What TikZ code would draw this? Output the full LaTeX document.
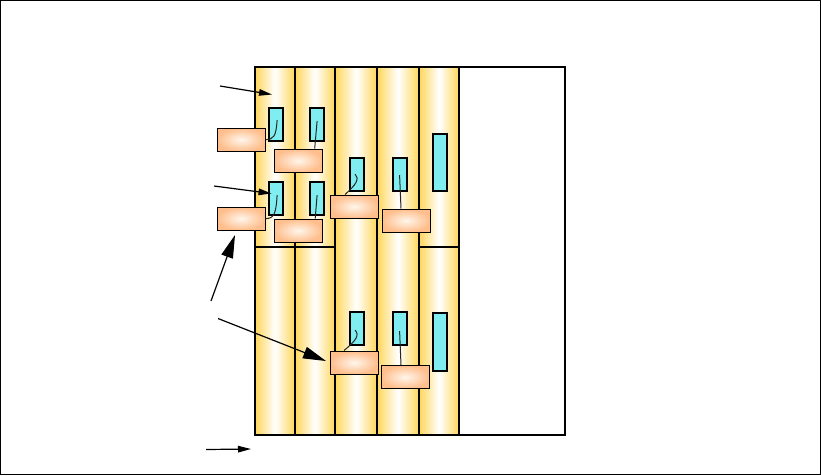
\documentclass[tikz,border=0pt]{standalone}
\usetikzlibrary{arrows.meta,calc}
\definecolor{goldc}{RGB}{255,214,90}
\definecolor{cyanc}{RGB}{128,238,240}
\definecolor{peach}{RGB}{255,190,140}
\definecolor{peachin}{RGB}{255,246,236}
\tikzset{
  colbox/.style={draw=black, line width=2pt, left color=goldc, right color=goldc, middle color=white, inner sep=0pt, anchor=north west, minimum width=#1},
  cybox/.style={draw=black, line width=2.2pt, fill=cyanc, inner sep=0pt, anchor=north west, minimum width=14pt},
  orbox/.style={draw=black, line width=1.2pt, inner color=peachin, outer color=peach, inner sep=0pt, anchor=north west, minimum width=48pt, minimum height=23pt},
  wire/.style={draw=black!85, line width=1pt},
  arrbig/.style={draw=black, line width=1.2pt, -{Triangle[length=23pt,width=12pt]}},
  arrsmall/.style={draw=black, line width=1.2pt, -{Triangle[length=13pt,width=6.5pt]}}
}
\begin{document}
\begin{tikzpicture}[x=1pt,y=-1pt]
\useasboundingbox (0,0) rectangle (821,475);
\draw[line width=1pt] (0.5,0.5) rectangle (820.5,474.5);
% columns
\node[colbox=40pt, minimum height=180pt] (c1t) at (254,66) {};
\node[colbox=40pt, minimum height=188pt] (c1b) at (254,246) {};
\node[colbox=40pt, minimum height=180pt] (c2t) at (294,66) {};
\node[colbox=40pt, minimum height=188pt] (c2b) at (294,246) {};
\node[colbox=42pt, minimum height=368pt] (c3) at (334,66) {};
\node[colbox=42pt, minimum height=368pt] (c4) at (376,66) {};
\node[colbox=40pt, minimum height=180pt] (c5t) at (418,66) {};
\node[colbox=40pt, minimum height=188pt] (c5b) at (418,246) {};
\node[draw=black, line width=2.4pt, inner sep=0pt, anchor=north west, minimum width=310pt, minimum height=368pt] (frame) at (254,66) {};
% cyan boxes
\node[cybox, minimum height=33pt] (y1) at (268,106.5) {};
\node[cybox, minimum height=33pt] (y2) at (308.5,106.5) {};
\node[cybox, minimum height=33pt] (y3) at (268,180.5) {};
\node[cybox, minimum height=33pt] (y4) at (308.5,180.5) {};
\node[cybox, minimum height=33pt] (y5) at (348.5,156.5) {};
\node[cybox, minimum height=33pt] (y6) at (391.5,156.5) {};
\node[cybox, minimum height=57pt] (y7) at (432,133) {};
\node[cybox, minimum height=33pt] (y8) at (348.5,310.5) {};
\node[cybox, minimum height=33pt] (y9) at (391.5,310.5) {};
\node[cybox, minimum height=58pt] (y10) at (432,311.5) {};
% orange boxes
\node[orbox] (oA) at (216.5,127.5) {};
\node[orbox] (oB) at (273.5,148.5) {};
\node[orbox] (oC) at (216.5,206.5) {};
\node[orbox] (oD) at (273.5,218.5) {};
\node[orbox] (oE) at (329.5,194.5) {};
\node[orbox] (oF) at (381.5,208.5) {};
\node[orbox] (oG) at (329.5,350.5) {};
\node[orbox] (oH) at (380.5,365) {};
% wires
\draw[wire] ($(y1.center)+(1,-4)$) .. controls ($(y1.center)+(0,12)$) and ($(oA.east)+(8,0)$) .. (oA.east);
\draw[wire] ($(y2.center)+(0.5,-3)$) -- ($(oB.north east)+(-8,0)$);
\draw[wire] ($(y3.center)+(1,-3)$) .. controls ($(y3.center)+(0,16)$) and ($(oC.east)+(8,0)$) .. (oC.east);
\draw[wire] ($(y4.center)+(0.5,-3)$) -- ($(oD.north east)+(-7.5,0)$);
\draw[wire] ($(y5.center)+(-1.5,0)$) .. controls ($(y5.center)+(3,5)$) and ($(y5.center)+(0,10)$) .. ($(oE.north west)+(15.5,0)$);
\draw[wire] ($(y6.center)+(0,1)$) -- ($(oF.north west)+(19.5,0)$);
\draw[wire] ($(y8.center)+(-1.5,2)$) .. controls ($(y8.center)+(3,7)$) and ($(y8.center)+(0,12)$) .. ($(oG.north west)+(14.5,0)$);
\draw[wire] ($(y9.center)+(0,3)$) -- ($(oH.north west)+(20.5,0)$);
% arrows
\coordinate (a1s) at (220,86);
\coordinate (a1e) at (272,94.5);
\coordinate (a2s) at (214,186);
\coordinate (a2e) at (271.5,193.5);
\coordinate (a3s) at (211,301);
\coordinate (a3e) at (235,235);
\coordinate (a4s) at (218,318.5);
\coordinate (a4e) at (326,361);
\coordinate (a5s) at (206,449.5);
\coordinate (a5e) at (251,449);
\draw[arrsmall] (a1s) -- (a1e);
\draw[arrsmall] (a2s) -- (a2e);
\draw[arrbig] (a3s) -- (a3e);
\draw[arrbig] (a4s) -- (a4e);
\draw[arrsmall] (a5s) -- (a5e);
\end{tikzpicture}
\end{document}
